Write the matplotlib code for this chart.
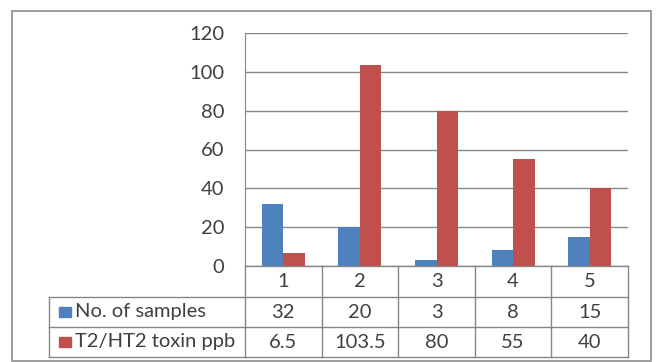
import matplotlib
matplotlib.use("Agg")
import matplotlib.pyplot as plt
import numpy as np
from matplotlib.patches import Rectangle

plt.rcParams['font.family'] = ['Lato', 'DejaVu Sans']

categories = ['1', '2', '3', '4', '5']
series_names = ['No. of samples', 'T2/HT2 toxin ppb']
samples = [32, 20, 3, 8, 15]
toxin = [6.5, 103.5, 80, 55, 40]
samples_text = ['32', '20', '3', '8', '15']
toxin_text = ['6.5', '103.5', '80', '55', '40']
yticks = [0, 20, 40, 60, 80, 100, 120]

blue = '#4F81BD'
red = '#C0504D'
grid = '#868686'
txt = '#404040'
fs = 14.5

W, H = 656, 362
fig = plt.figure(figsize=(W / 100, H / 100), dpi=100)


def fx(px):
    return px / W


def fy(py):
    return 1 - py / H


# outer chart frame
fig.patches.append(Rectangle((fx(12), fy(361)), fx(651) - fx(12), fy(11) - fy(361),
                             transform=fig.transFigure, fill=False,
                             edgecolor='#8c8c8c', lw=1.2))

left, right, top, zero = 245, 628, 33, 266
ax = fig.add_axes([fx(left), fy(zero), fx(right) - fx(left), fy(top) - fy(zero)])

x = np.arange(len(categories))
bw = 0.28
ax.bar(x - bw / 2, samples, bw, color=blue)
ax.bar(x + bw / 2, toxin, bw, color=red)
ax.set_xlim(-0.5, len(categories) - 0.5)
ax.set_ylim(0, 120)
ax.set_yticks(yticks)
ax.yaxis.grid(True, color=grid, lw=1)
ax.set_axisbelow(True)
ax.set_xticks([])
ax.tick_params(axis='y', length=0, pad=15, labelsize=fs, labelcolor=txt)
for s in ['top', 'right', 'bottom']:
    ax.spines[s].set_visible(False)
ax.spines['left'].set_color(grid)

# data table under the plot
tab_left = 49
rows = [266, 297, 327, 357]
col_w = (right - left) / len(categories)
line_kw = dict(color=grid, lw=1, transform=fig.transFigure)

# horizontal lines
fig.add_artist(plt.Line2D([fx(left), fx(right)], [fy(rows[0])] * 2, **line_kw))
for r in rows[1:]:
    fig.add_artist(plt.Line2D([fx(tab_left), fx(right)], [fy(r)] * 2, **line_kw))
# vertical lines
fig.add_artist(plt.Line2D([fx(tab_left)] * 2, [fy(rows[1]), fy(rows[3])], **line_kw))
for i in range(len(categories) + 1):
    xp = left + i * col_w
    fig.add_artist(plt.Line2D([fx(xp)] * 2, [fy(rows[0]), fy(rows[3])], **line_kw))

# category row and value rows
for i, c in enumerate(categories):
    xc = fx(left + (i + 0.5) * col_w)
    fig.text(xc, fy((rows[0] + rows[1]) / 2), c, ha='center', va='center',
             fontsize=fs, color=txt)
    fig.text(xc, fy((rows[1] + rows[2]) / 2), samples_text[i], ha='center',
             va='center', fontsize=fs, color=txt)
    fig.text(xc, fy((rows[2] + rows[3]) / 2), toxin_text[i], ha='center',
             va='center', fontsize=fs, color=txt)

# legend keys in the row headers
for name, col, r0, r1 in [(series_names[0], blue, rows[1], rows[2]),
                          (series_names[1], red, rows[2], rows[3])]:
    yc = (r0 + r1) / 2
    fig.patches.append(Rectangle((fx(59), fy(yc + 5)), fx(12), fy(0) - fy(10),
                                 transform=fig.transFigure, color=col))
    fig.text(fx(75), fy(yc), name, ha='left', va='center', fontsize=fs, color=txt)

fig.savefig('out.png', dpi=100)
